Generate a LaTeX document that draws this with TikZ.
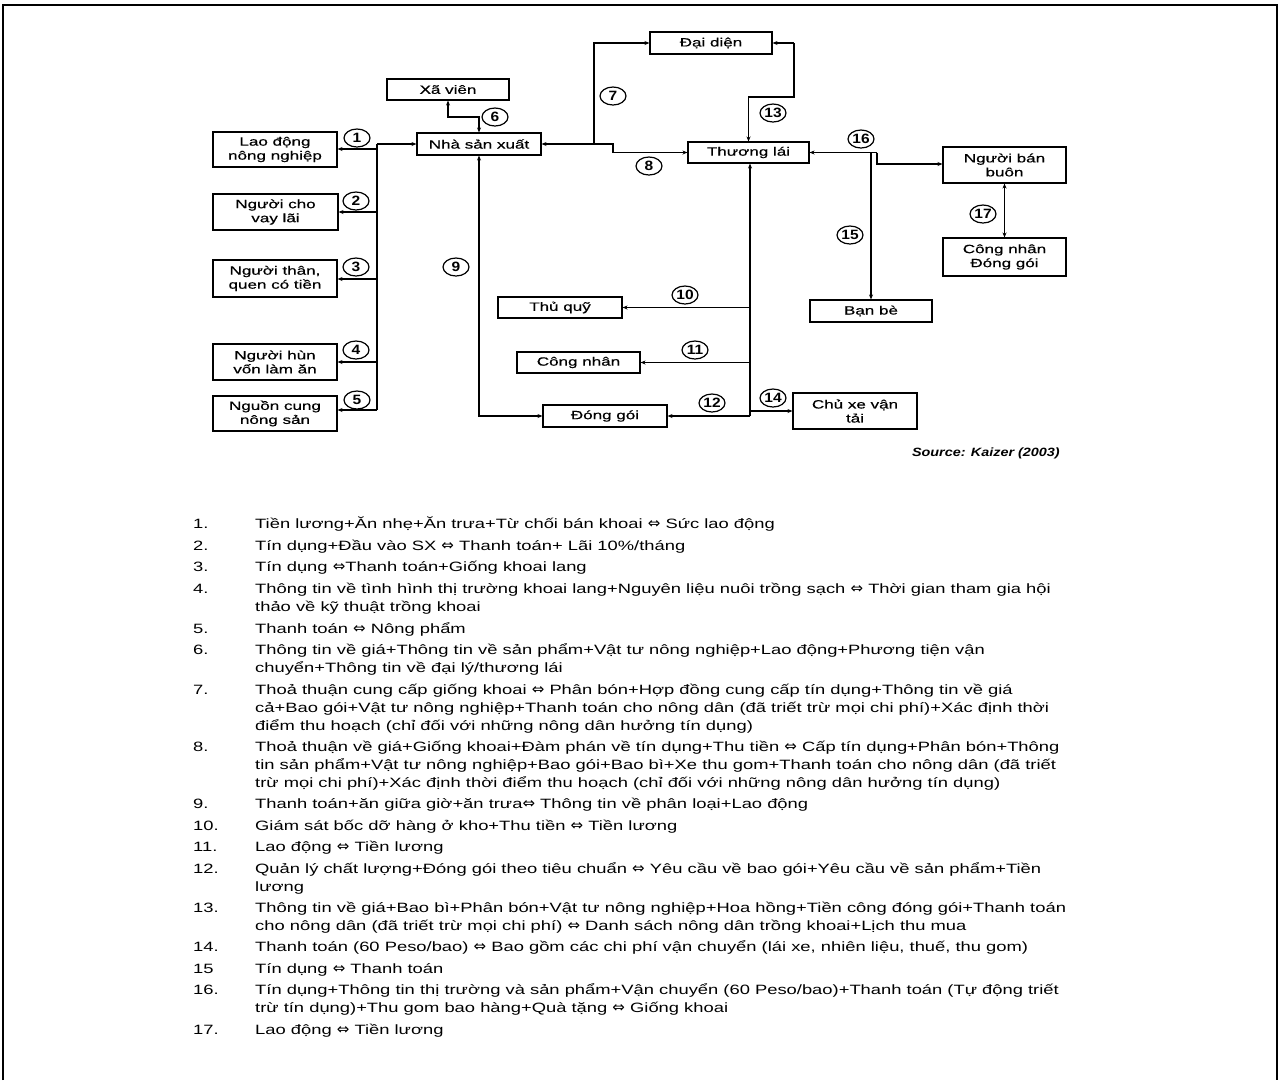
\documentclass[tikz,border=0pt]{standalone}
\usepackage{fontspec}
\setmainfont{Liberation Sans}[FakeStretch=1.36]
\newfontfamily\boxfont{Liberation Sans}[FakeStretch=1.42,FakeBold=0.5]
\newfontfamily\numfont{Liberation Sans}[FakeStretch=1.15]
\newfontfamily\srcfont{Liberation Sans}[FakeStretch=1.2]
\newfontfamily\symfont{DejaVu Sans}
\usetikzlibrary{shapes.geometric,arrows.meta}
\newcommand\eqvarr{{\symfont\fontsize{15}{15}\selectfont ⇔}}
\begin{document}
\begin{tikzpicture}[x=1pt,y=-1pt,
  box/.style={draw, line width=1.1pt, inner sep=0pt, align=center, font=\boxfont\fontsize{12}{14}\selectfont},
  num/.style={ellipse, draw, line width=1.2pt, inner sep=0pt, minimum width=26pt, minimum height=18pt, font=\numfont\bfseries\fontsize{13.5}{13.5}\selectfont},
  con/.style={line width=1.3pt},
  arr/.style={con, -{Stealth[length=5pt,width=4pt]}},
  darr/.style={con, {Stealth[length=5pt,width=4pt]}-{Stealth[length=5pt,width=4pt]}},
  itm/.style={anchor=base west, inner sep=0pt, font=\fontsize{13.5}{16}\selectfont},
  frame/.style={line width=1.5pt}]
\useasboundingbox (0,0) rectangle (1279,1080);
\draw[frame] (3,1080) -- (3,5) -- (1277,5) -- (1277,1080);

% boxes
\node[box, minimum width=122pt, minimum height=21pt] (xavien) at (448,89.5) {Xã viên};
\node[box, minimum width=124pt, minimum height=22pt] (nsx) at (479,144) {Nhà sản xuất};
\node[box, minimum width=124pt, minimum height=35pt] (ldnn) at (275,149.5) {Lao động\\nông nghiệp};
\node[box, minimum width=125pt, minimum height=36pt] (vay) at (275.5,212) {Người cho\\vay lãi};
\node[box, minimum width=124pt, minimum height=37pt] (than) at (275,278.5) {Người thân,\\quen có tiền};
\node[box, minimum width=124pt, minimum height=36pt] (hun) at (275,362) {Người hùn\\vốn làm ăn};
\node[box, minimum width=124pt, minimum height=35pt] (nguon) at (275,413.5) {Nguồn cung\\nông sản};
\node[box, minimum width=122pt, minimum height=22pt] (daidien) at (711,43) {Đại diện};
\node[box, minimum width=121pt, minimum height=21pt] (tl) at (748.5,152.5) {Thương lái};
\node[box, minimum width=123pt, minimum height=36pt] (banbuon) at (1004.5,165) {Người bán\\buôn};
\node[box, minimum width=123pt, minimum height=38pt] (cndg) at (1004.5,257) {Công nhân\\Đóng gói};
\node[box, minimum width=122pt, minimum height=22pt] (banbe) at (871,311) {Bạn bè};
\node[box, minimum width=124pt, minimum height=21pt] (thuquy) at (560,307.5) {Thủ quỹ};
\node[box, minimum width=123pt, minimum height=21pt] (congnhan) at (578.5,362.5) {Công nhân};
\node[box, minimum width=124pt, minimum height=22pt] (donggoi) at (605,416) {Đóng gói};
\node[box, minimum width=124pt, minimum height=36pt] (chuxe) at (855,411) {Chủ xe vận\\tải};

% left bus
\coordinate (b0) at (377,144);
\coordinate (b1) at (377,149);
\coordinate (b2) at (377,212);
\coordinate (b3) at (377,279);
\coordinate (b4) at (377,362);
\coordinate (b5) at (377,410);
\draw[con] (b0) -- (b5);
\draw[arr] (b0) -- (nsx.west);
\draw[arr] (b1) -- (b1 -| ldnn.east);
\draw[arr] (b2) -- (b2 -| vay.east);
\draw[arr] (b3) -- (b3 -| than.east);
\draw[arr] (b4) -- (b4 -| hun.east);
\draw[arr] (b5) -- (b5 -| nguon.east);

% 6
\coordinate (k6) at (448,117);
\draw[darr] (xavien.south) -- (k6) -| (nsx.north);

% 7 and 8
\coordinate (j78) at (594,144);
\coordinate (k8) at (613,144);
\draw[arr] (j78) -- (nsx.east);
\draw[arr] (j78) |- (daidien.west);
\draw[arr] (j78) -- (k8) -- (k8 |- tl.west) -- (tl.west);

% 13
\coordinate (k13a) at (794,43);
\coordinate (k13b) at (794,97);
\draw[arr] (k13a) -- (daidien.east);
\draw[arr] (k13a) -- (k13b) -| (tl.north);

% 9
\coordinate (k9) at (479,416);
\draw[darr] (nsx.south) -- (k9) -- (donggoi.west);

% trunk below Thuong lai
\coordinate (tb) at (750,416);
\coordinate (t14) at (750,411);
\draw[arr] (tb) -- (tl.south -| tb);
\draw[arr] (tb |- thuquy.east) -- (thuquy.east);
\draw[arr] (tb |- congnhan.east) -- (congnhan.east);
\draw[arr] (tb) -- (donggoi.east);
\draw[arr] (t14) -- (chuxe.west);

% 16, 15
\coordinate (j16) at (877,152.5);
\coordinate (k16) at (877,164);
\draw[arr] (j16) -- (tl.east);
\draw[arr] (j16) -- (k16) -- (k16 -| banbuon.west);
\draw[arr] (banbe.north |- j16) -- (banbe.north);

% 17
\draw[darr] (banbuon.south) -- (cndg.north);

% number labels
\node[num] (c1) at (357,138) {1};
\node[num] (c2) at (356,201) {2};
\node[num] (c3) at (356,267) {3};
\node[num] (c4) at (356,350) {4};
\node[num] (c5) at (357,400) {5};
\node[num] (c6) at (495,117) {6};
\node[num] (c7) at (613,96) {7};
\node[num] (c8) at (649,166) {8};
\node[num] (c9) at (456,267) {9};
\node[num] (c10) at (685,295) {10};
\node[num] (c11) at (695,350) {11};
\node[num] (c12) at (712,403) {12};
\node[num] (c13) at (773,113) {13};
\node[num] (c14) at (773,398) {14};
\node[num] (c15) at (850,235) {15};
\node[num] (c16) at (861,139) {16};
\node[num] (c17) at (983,214) {17};

\node[anchor=base east, inner sep=0pt, font=\srcfont\bfseries\itshape\fontsize{12}{12}\selectfont] (src) at (1060,456) {Source: Kaizer (2003)};

% list
\node[itm] (n1) at (193,528) {1.};
\node[itm] (t1) at (255,528) {Tiền lương+Ăn nhẹ+Ăn trưa+Từ chối bán khoai \eqvarr{} Sức lao động};
\node[itm] (n2) at (193,550) {2.};
\node[itm] (t2) at (255,550) {Tín dụng+Đầu vào SX \eqvarr{} Thanh toán+ Lãi 10\%/tháng};
\node[itm] (n3) at (193,571) {3.};
\node[itm] (t3) at (255,571) {Tín dụng \eqvarr{}Thanh toán+Giống khoai lang};
\node[itm] (n4) at (193,593) {4.};
\node[itm] (t4a) at (255,593) {Thông tin về tình hình thị trường khoai lang+Nguyên liệu nuôi trồng sạch \eqvarr{} Thời gian tham gia hội};
\node[itm] (t4b) at (255,611) {thảo về kỹ thuật trồng khoai};
\node[itm] (n5) at (193,633) {5.};
\node[itm] (t5) at (255,633) {Thanh toán \eqvarr{} Nông phẩm};
\node[itm] (n6) at (193,654) {6.};
\node[itm] (t6a) at (255,654) {Thông tin về giá+Thông tin về sản phẩm+Vật tư nông nghiệp+Lao động+Phương tiện vận};
\node[itm] (t6b) at (255,672) {chuyển+Thông tin về đại lý/thương lái};
\node[itm] (n7) at (193,694) {7.};
\node[itm] (t7a) at (255,694) {Thoả thuận cung cấp giống khoai \eqvarr{} Phân bón+Hợp đồng cung cấp tín dụng+Thông tin về giá};
\node[itm] (t7b) at (255,712) {cả+Bao gói+Vật tư nông nghiệp+Thanh toán cho nông dân (đã triết trừ mọi chi phí)+Xác định thời};
\node[itm] (t7c) at (255,730) {điểm thu hoạch (chỉ đối với những nông dân hưởng tín dụng)};
\node[itm] (n8) at (193,751) {8.};
\node[itm] (t8a) at (255,751) {Thoả thuận về giá+Giống khoai+Đàm phán về tín dụng+Thu tiền \eqvarr{} Cấp tín dụng+Phân bón+Thông};
\node[itm] (t8b) at (255,769) {tin sản phẩm+Vật tư nông nghiệp+Bao gói+Bao bì+Xe thu gom+Thanh toán cho nông dân (đã triết};
\node[itm] (t8c) at (255,787) {trừ mọi chi phí)+Xác định thời điểm thu hoạch (chỉ đối với những nông dân hưởng tín dụng)};
\node[itm] (n9) at (193,808) {9.};
\node[itm] (t9) at (255,808) {Thanh toán+ăn giữa giờ+ăn trưa\eqvarr{} Thông tin về phân loại+Lao động};
\node[itm] (n10) at (193,830) {10.};
\node[itm] (t10) at (255,830) {Giám sát bốc dỡ hàng ở kho+Thu tiền \eqvarr{} Tiền lương};
\node[itm] (n11) at (193,851) {11.};
\node[itm] (t11) at (255,851) {Lao động \eqvarr{} Tiền lương};
\node[itm] (n12) at (193,873) {12.};
\node[itm] (t12a) at (255,873) {Quản lý chất lượng+Đóng gói theo tiêu chuẩn \eqvarr{} Yêu cầu về bao gói+Yêu cầu về sản phẩm+Tiền};
\node[itm] (t12b) at (255,891) {lương};
\node[itm] (n13) at (193,912) {13.};
\node[itm] (t13a) at (255,912) {Thông tin về giá+Bao bì+Phân bón+Vật tư nông nghiệp+Hoa hồng+Tiền công đóng gói+Thanh toán};
\node[itm] (t13b) at (255,930) {cho nông dân (đã triết trừ mọi chi phí) \eqvarr{} Danh sách nông dân trồng khoai+Lịch thu mua};
\node[itm] (n14) at (193,951) {14.};
\node[itm] (t14) at (255,951) {Thanh toán (60 Peso/bao) \eqvarr{} Bao gồm các chi phí vận chuyển (lái xe, nhiên liệu, thuế, thu gom)};
\node[itm] (n15) at (193,973) {15};
\node[itm] (t15) at (255,973) {Tín dụng \eqvarr{} Thanh toán};
\node[itm] (n16) at (193,994) {16.};
\node[itm] (t16a) at (255,994) {Tín dụng+Thông tin thị trường và sản phẩm+Vận chuyển (60 Peso/bao)+Thanh toán (Tự động triết};
\node[itm] (t16b) at (255,1012) {trừ tín dụng)+Thu gom bao hàng+Quà tặng \eqvarr{} Giống khoai};
\node[itm] (n17) at (193,1034) {17.};
\node[itm] (t17) at (255,1034) {Lao động \eqvarr{} Tiền lương};
\end{tikzpicture}
\end{document}
